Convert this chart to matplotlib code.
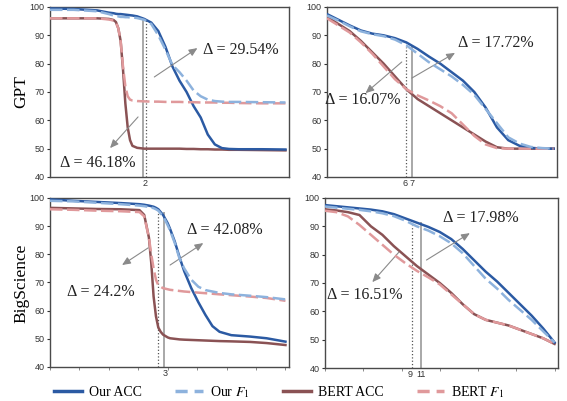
import numpy as np
import matplotlib
matplotlib.use("Agg")
import matplotlib.pyplot as plt
from matplotlib.lines import Line2D

plt.rcParams['mathtext.fontset'] = 'stix'

# Colours
c_our_acc = "#2b5aa3"
c_our_f1 = "#8db2dd"
c_bert_acc = "#8a5254"
c_bert_f1 = "#e0999b"

# ---------------- data (x = position along each panel, 0..1) ----------------
# GPT, left panel
x_gpt_l = [0, 0.1, 0.2, 0.25, 0.27, 0.28, 0.29, 0.3, 0.31, 0.32, 0.33, 0.34, 0.35, 0.37, 0.4,
           0.43, 0.46, 0.49, 0.52, 0.55, 0.58, 0.61, 0.64, 0.67, 0.7, 0.73, 0.76, 0.8, 0.9, 1.0]
our_acc_gpt_l = [99.5, 99.3, 98.8, 98.0, 97.8, 97.6, 97.5, 97.5, 97.4, 97.3, 97.2, 97.1, 97.0, 96.7, 95.8,
                 94.5, 91.5, 86.0, 79.0, 74.0, 70.0, 65.0, 61.0, 55.0, 51.5, 50.2, 49.9, 49.8, 49.8, 49.7]
our_f1_gpt_l = [99.0, 99.0, 98.5, 97.5, 97.0, 96.8, 96.7, 96.5, 96.5, 96.4, 96.4, 96.3, 96.3, 96.1, 95.5,
                94.0, 90.0, 85.0, 79.5, 77.0, 74.0, 70.5, 68.5, 67.3, 66.8, 66.6, 66.5, 66.5, 66.4, 66.3]
bert_acc_gpt_l = [96.0, 96.0, 96.0, 95.8, 95.4, 94.7, 92.5, 88.0, 78.0, 66.0, 57.5, 53.0, 51.0, 50.3, 50.0,
                  50.0, 50.0, 50.0, 50.0, 50.0, 49.9, 49.9, 49.8, 49.8, 49.7, 49.7, 49.6, 49.6, 49.5, 49.4]
bert_f1_gpt_l = [96.0, 96.0, 96.0, 95.6, 95.2, 94.5, 92.5, 88.0, 79.0, 72.0, 68.5, 67.3, 67.0, 66.8, 66.7,
                 66.6, 66.6, 66.5, 66.5, 66.5, 66.4, 66.4, 66.3, 66.3, 66.3, 66.2, 66.2, 66.1, 66.0, 66.0]

# GPT, right panel
x_gpt_r = [0, 0.05, 0.1, 0.15, 0.2, 0.25, 0.3, 0.35, 0.4, 0.45, 0.5,
           0.55, 0.6, 0.65, 0.7, 0.75, 0.8, 0.85, 0.9, 0.95, 1.0]
our_acc_gpt_r = [97.5, 95.5, 93.5, 91.7, 90.6, 90.0, 89.0, 87.5, 85.2, 82.5, 80.0,
                 77.0, 74.0, 70.0, 64.5, 57.5, 53.0, 51.0, 50.3, 50.0, 50.0]
our_f1_gpt_r = [97.0, 95.2, 93.2, 91.4, 90.4, 89.7, 88.5, 86.5, 83.5, 80.5, 78.0,
                75.5, 72.5, 69.0, 64.0, 59.0, 54.0, 51.8, 50.6, 50.2, 50.0]
bert_acc_gpt_r = [96.5, 94.0, 91.5, 88.0, 84.0, 80.0, 75.5, 71.0, 67.5, 65.0, 62.5,
                  60.0, 57.5, 55.0, 52.5, 50.5, 50.0, 50.0, 50.0, 50.0, 50.0]
bert_f1_gpt_r = [96.0, 93.5, 91.0, 87.5, 83.5, 79.0, 74.5, 71.0, 68.8, 67.0, 65.0,
                 62.5, 58.5, 54.5, 51.5, 50.2, 50.0, 50.0, 50.0, 50.0, 50.0]

# BigScience, left panel
x_bs_l = [0, 0.1, 0.2, 0.3, 0.38, 0.4, 0.42, 0.43, 0.44, 0.45, 0.46, 0.47, 0.48, 0.49,
          0.5, 0.51, 0.53, 0.55, 0.57, 0.6, 0.63, 0.66, 0.69, 0.72, 0.77, 0.85, 0.92, 1.0]
our_acc_bs_l = [99.5, 99.0, 98.6, 98.2, 97.8, 97.6, 97.3, 97.1, 96.9, 96.5, 96.0, 95.0, 94.0, 92.5,
                91.0, 89.0, 84.5, 79.0, 74.0, 68.0, 63.0, 58.5, 54.5, 52.5, 51.3, 50.8, 50.2, 49.0]
our_f1_bs_l = [99.0, 98.8, 98.3, 97.8, 97.3, 97.1, 96.8, 96.6, 96.4, 96.0, 95.5, 94.5, 93.5, 92.0,
               90.3, 88.5, 84.0, 78.5, 75.0, 71.0, 68.5, 67.3, 66.8, 66.3, 65.8, 65.3, 64.8, 64.0]
bert_acc_bs_l = [96.5, 96.3, 96.1, 96.0, 95.7, 94.0, 86.0, 77.0, 65.0, 58.0, 54.0, 52.5, 51.5, 51.0,
                 50.5, 50.2, 50.0, 49.8, 49.7, 49.6, 49.5, 49.4, 49.3, 49.2, 49.1, 48.9, 48.5, 47.8]
bert_f1_bs_l = [96.0, 95.8, 95.5, 95.3, 95.0, 93.5, 86.0, 80.0, 75.0, 71.0, 69.0, 68.5, 68.0, 67.8,
                67.6, 67.4, 67.2, 67.0, 66.8, 66.6, 66.4, 66.2, 66.0, 65.8, 65.5, 65.0, 64.5, 63.5]

# BigScience, right panel
x_bs_r = [0, 0.05, 0.1, 0.15, 0.2, 0.25, 0.3, 0.35, 0.4, 0.45, 0.5,
          0.55, 0.6, 0.65, 0.7, 0.75, 0.8, 0.85, 0.9, 0.95, 1.0]
our_acc_bs_r = [97.5, 97.1, 96.7, 96.3, 95.9, 95.3, 94.3, 92.8, 91.3, 89.8, 88.0,
                85.5, 82.0, 78.0, 74.0, 70.5, 66.5, 62.5, 58.5, 54.0, 49.0]
our_f1_bs_r = [97.0, 96.6, 96.2, 95.8, 95.3, 94.6, 93.6, 92.0, 90.0, 88.5, 86.5,
               84.0, 80.5, 76.0, 71.5, 68.0, 64.0, 60.5, 57.0, 53.0, 49.0]
bert_acc_bs_r = [96.0, 95.6, 95.0, 94.0, 90.0, 87.0, 83.0, 79.5, 76.0, 73.0, 70.0,
                 66.5, 62.5, 59.0, 57.0, 56.0, 55.0, 53.5, 52.0, 50.5, 48.5]
bert_f1_bs_r = [95.5, 95.0, 93.5, 90.5, 87.0, 83.5, 80.0, 77.0, 74.3, 72.0, 69.5,
                66.0, 62.5, 59.0, 57.0, 56.0, 55.0, 53.5, 52.0, 50.5, 48.5]

# threshold markers: (position, top value, style)
marks_gpt_l = [(0.396, 96.0, "solid"), (0.408, 95.5, "dotted")]
marks_gpt_r = [(0.374, 86.6, "solid"), (0.348, 85.9, "dotted")]
marks_bs_l = [(0.485, 95.1, "solid"), (0.46, 94.7, "dotted")]
marks_bs_r = [(0.42, 91.6, "solid"), (0.378, 90.4, "dotted")]
ticks_gpt_l = ([0.402], ["2"])
ticks_gpt_r = ([0.346, 0.376], ["6", "7"])
ticks_bs_l = ([0.49], ["3"])
ticks_bs_r = ([0.37, 0.42], ["9", "11"])

# annotations: text, text position, arrow tail, arrow head
ann_gpt_l = [("Δ = 29.54%", (0.651, 84.8), (0.443, 75.3), (0.626, 85.5)),
             ("Δ = 46.18%", (0.043, 44.9), (0.374, 61.2), (0.255, 50.2))]
ann_gpt_r = [("Δ = 17.72%", (0.578, 87.3), (0.374, 74.9), (0.565, 83.8)),
             ("Δ = 16.07%", (-0.009, 67.2), (0.33, 80.6), (0.17, 69.6))]
ann_bs_l = [("Δ = 42.08%", (0.583, 88.7), (0.51, 76.2), (0.651, 84.0)),
            ("Δ = 24.2%", (0.072, 66.7), (0.417, 82.3), (0.306, 76.2))]
ann_bs_r = [("Δ = 17.98%", (0.515, 92.9), (0.442, 78.1), (0.631, 87.6)),
            ("Δ = 16.51%", (0.009, 65.7), (0.322, 80.9), (0.206, 70.3))]

W, H = 567, 401
fig = plt.figure(figsize=(W / 100, H / 100), dpi=100)


def px_axes(left, top, right, bottom):
    return fig.add_axes([left / W, 1 - bottom / H, (right - left) / W, (bottom - top) / H])


def draw_panel(ax, x, oa, of, ba, bf, marks, ticks, anns, minor=None):
    ax.plot(x, ba, color=c_bert_acc, lw=1.8, zorder=3)
    ax.plot(x, bf, color=c_bert_f1, lw=1.8, dashes=(5, 1.8), zorder=4)
    ax.plot(x, oa, color=c_our_acc, lw=1.8, zorder=3)
    ax.plot(x, of, color=c_our_f1, lw=1.8, dashes=(5, 1.8), zorder=4)
    for pos, top, style in marks:
        if style == "solid":
            ax.vlines(pos, 40, top, color="#9a9a9a", lw=1.2, zorder=2)
        else:
            ax.vlines(pos, 40, top, color="#555555", lw=0.9, linestyles=":", zorder=2)
    for txt, tpos, tail, head in anns:
        ax.annotate("", xy=head, xytext=tail,
                    arrowprops=dict(arrowstyle="-|>,head_length=0.5,head_width=0.22",
                                    color="#8a8a8a", lw=0.8, shrinkA=0, shrinkB=0))
        ax.text(tpos[0], tpos[1], txt, fontsize=11.5, family="Liberation Serif",
                ha="left", va="center", color="#222222", zorder=6)
    ax.set_xlim(0, 1.015)
    ax.set_ylim(40, 100)
    ax.set_yticks([40, 50, 60, 70, 80, 90, 100])
    ax.set_xticks(ticks[0])
    ax.set_xticklabels(ticks[1])
    if minor is not None:
        ax.set_xticks(minor, minor=True)
    ax.tick_params(axis="x", length=0, pad=1.5, labelsize=6.5, colors="#333333")
    ax.tick_params(axis="x", which="minor", length=2, width=0.6, color="#777777")
    ax.tick_params(axis="y", length=2.5, width=0.8, pad=1.5, labelsize=6.5,
                   colors="#333333")
    for lab in ax.get_xticklabels() + ax.get_yticklabels():
        lab.set_family("Liberation Sans")
    for sp in ax.spines.values():
        sp.set_color("#4a4a4a")
        sp.set_linewidth(1.0)


ax1 = px_axes(50, 7, 289, 177)
ax2 = px_axes(327, 7, 557, 177)
ax3 = px_axes(50, 198, 289, 367)
ax4 = px_axes(325, 198, 558, 368)

draw_panel(ax1, x_gpt_l, our_acc_gpt_l, our_f1_gpt_l, bert_acc_gpt_l, bert_f1_gpt_l,
           marks_gpt_l, ticks_gpt_l, ann_gpt_l)
draw_panel(ax2, x_gpt_r, our_acc_gpt_r, our_f1_gpt_r, bert_acc_gpt_r, bert_f1_gpt_r,
           marks_gpt_r, ticks_gpt_r, ann_gpt_r)
draw_panel(ax3, x_bs_l, our_acc_bs_l, our_f1_bs_l, bert_acc_bs_l, bert_f1_bs_l,
           marks_bs_l, ticks_bs_l, ann_bs_l, minor=np.arange(0, 1.01, 0.125))
draw_panel(ax4, x_bs_r, our_acc_bs_r, our_f1_bs_r, bert_acc_bs_r, bert_f1_bs_r,
           marks_bs_r, ticks_bs_r, ann_bs_r, minor=np.arange(0, 1.01, 1 / 6))

fig.text(21 / W, 1 - 92 / H, "GPT", rotation=90, fontsize=12.5, family="Liberation Serif",
         ha="center", va="center")
fig.text(21 / W, 1 - 283 / H, "BigScience", rotation=90, fontsize=12.5,
         family="Liberation Serif", ha="center", va="center")

handles = [
    Line2D([], [], color=c_our_acc, lw=2.5),
    Line2D([], [], color=c_our_f1, lw=2.5, dashes=(3.5, 2)),
    Line2D([], [], color=c_bert_acc, lw=2.5),
    Line2D([], [], color=c_bert_f1, lw=2.5, dashes=(3.5, 2)),
]
labels = ["Our ACC", "Our $F_1$", "BERT ACC", "BERT $F_1$"]
fig.legend(handles, labels, loc="center", bbox_to_anchor=(0.493, 1 - 392 / H), ncol=4,
           frameon=False, prop={"family": "Liberation Serif", "size": 10},
           handlelength=2.0, handletextpad=0.5, columnspacing=2.4)

fig.savefig("out.png", dpi=100)
